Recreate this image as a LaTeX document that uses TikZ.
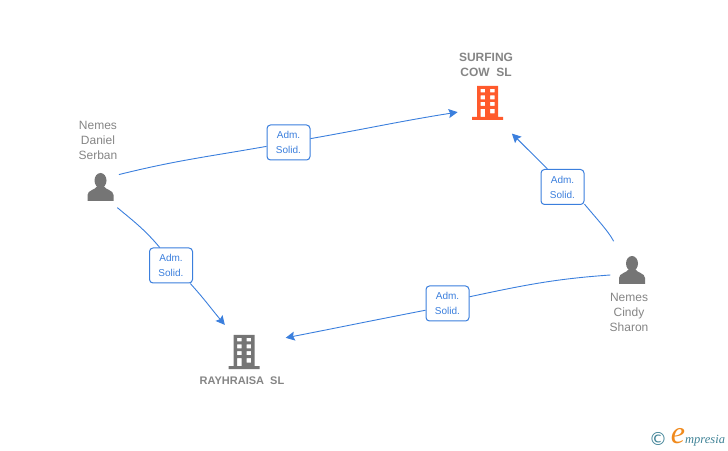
\documentclass[tikz,border=0pt]{standalone}
\usepackage{fontspec}
\setmainfont{Liberation Sans}
\newfontfamily\logoserif{Liberation Serif}
\newfontfamily\logosym{DejaVu Sans}
\usetikzlibrary{shapes, arrows.meta, positioning}
\definecolor{linkblue}{HTML}{3B7FDD}
\definecolor{icongray}{HTML}{757575}
\definecolor{textgray}{HTML}{858585}
\definecolor{firmred}{HTML}{FF5A2C}
\definecolor{logoteal}{HTML}{3F8296}
\definecolor{logoorange}{HTML}{F08A1D}
\tikzstyle{person} = [circle, minimum size=44pt, inner sep=0pt]
\tikzstyle{firm} = [circle, minimum size=62pt, inner sep=0pt]
\tikzstyle{personname} = [text=textgray, align=center, inner sep=0pt, font=\fontsize{12}{15}\selectfont]
\tikzstyle{firmname} = [personname, font=\fontsize{12}{15}\selectfont\bfseries]
\tikzstyle{adm} = [draw=linkblue, line width=1pt, fill=white, rounded corners=3.5pt, text=linkblue, align=center,
    minimum width=43pt, minimum height=35pt, inner sep=0pt, font=\fontsize{10}{15}\selectfont]
\tikzstyle{link} = [draw=linkblue, line width=0.9pt]
\tikzset{
  building/.pic={
    \path [pic actions, even odd rule]
      (-10.5,-14) rectangle (10.5,17) (-15.5,-17) rectangle (15.5,-14)
      (-7,10.5) rectangle (-2.5,14) (2.5,10.5) rectangle (7,14)
      (-7,3.5) rectangle (-2.5,7.5) (2.5,3.5) rectangle (7,7.5)
      (-7,-3) rectangle (-2.5,1) (2.5,-3) rectangle (7,1)
      (-7,-14) rectangle (-2.5,-6) (2.5,-10.5) rectangle (7,-6);
  },
  bust/.pic={
    \path [pic actions] (0,6.5) ellipse (6 and 7.5);
    \path [pic actions] (-13,-14) -- (-13,-8) .. controls (-13,-3) and (-5,-3) .. (-3,1)
      -- (3,1) .. controls (5,-3) and (13,-3) .. (13,-8) -- (13,-14) -- cycle;
  }
}

\begin{document}
\begin{tikzpicture}[x=1pt, y=1pt, node distance=3pt, >={Stealth[length=9pt,width=9pt,inset=1.5pt]}]
    \useasboundingbox (0,0) rectangle (728,450);
    \node [person] (daniel) at (100.5,263) {};
    \node [person] (sharon) at (632,180) {};
    \node [firm] (surfing) at (487.5,347) {};
    \node [firm] (rayhraisa) at (244,98) {};
    \pic [fill=icongray] at (daniel) {bust};
    \pic [fill=icongray] at (sharon) {bust};
    \pic [fill=firmred] at (surfing) {building};
    \pic [fill=icongray] at (rayhraisa) {building};
    \node [personname, above=5pt of daniel, xshift=-2.5pt] (danielname) {Nemes\\Daniel\\Serban};
    \node [personname, below=1pt of sharon, xshift=-3pt] (sharonname) {Nemes\\Cindy\\Sharon};
    \node [firmname, above=-5pt of surfing, xshift=-1.5pt] (surfingname) {SURFING\\COW\ \ SL};
    \node [firmname, font=\fontsize{11}{15}\selectfont\bfseries, below=-7pt of rayhraisa, xshift=-2pt] (rayhraisaname) {RAYHRAISA\ \ SL};
    \node [adm] (adma) at (288.5,307.5) {Adm.\\Solid.};
    \node [adm] (admb) at (171,184.5) {Adm.\\Solid.};
    \node [adm] (admc) at (562.5,263) {Adm.\\Solid.};
    \node [adm] (admd) at (447.5,146.5) {Adm.\\Solid.};
    \draw [link] (daniel.34) to [out=14, in=190] (adma);
    \draw [link, ->] (adma) to [out=10, in=189] (surfing.197);
    \draw [link, shorten <=4.5pt] (daniel.-53) to [out=-40, in=130] (admb.122);
    \draw [link, ->, shorten >=2pt] (admb.-43) to [out=-48, in=130] (rayhraisa.125);
    \draw [link, shorten <=12pt] (sharon.125) to [out=118, in=-50] (admc.-38);
    \draw [link, ->, shorten >=8pt] (admc.130) to [out=135, in=-45] (surfing.-53);
    \draw [link] (sharon.193) to [out=184, in=12] (admd.17);
    \draw [link, ->, shorten >=13pt] (admd.197) to [out=191, in=11] (rayhraisa.22);
    % logo
    \node [text=logoteal, inner sep=0pt, font=\logosym\fontsize{18}{18}\selectfont] (logoc) at (658,11) {\char"00A9};
    \node [text=logoorange, inner sep=0pt, font=\logoserif\itshape\fontsize{32}{32}\selectfont] (logoe) at (678,14) {e};
    \node [text=logoteal, inner sep=0pt, anchor=west, font=\logoserif\itshape\fontsize{12.5}{12.5}\selectfont] (logotext) at (685,9) {mpresia};
\end{tikzpicture}
\end{document}
